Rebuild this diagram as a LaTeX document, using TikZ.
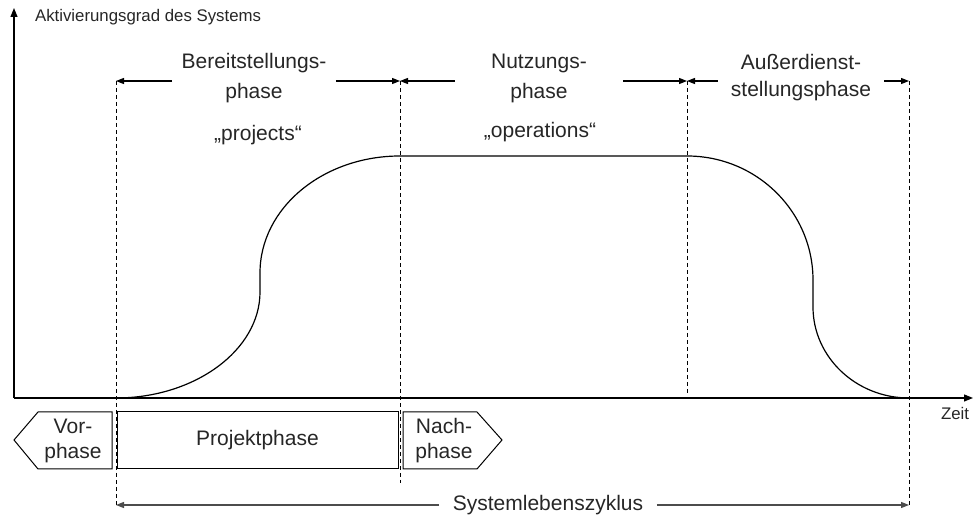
\documentclass[tikz,border=0pt]{standalone}
\usepackage{fontspec}
\setmainfont{Liberation Sans}
\usetikzlibrary{arrows.meta}

\begin{document}
\begin{tikzpicture}[
        x=0.5pt, y=-0.5pt,
        every node/.style={text=black!85},
        phasetxt/.style={align=center, font=\fontsize{10.5}{15}\selectfont},
        boxtxt/.style={align=center, font=\fontsize{10.5}{12.5}\selectfont},
        smalltxt/.style={font=\fontsize{8.4}{10}\selectfont},
        guide/.style={dash pattern=on 2pt off 1.5pt, line width=0.5pt},
        dimarrow/.style={-{Triangle[length=4pt,width=3pt]}, line width=0.6pt},
        axis/.style={-{Triangle[length=4.5pt,width=3.5pt]}, line width=0.6pt},
        curve/.style={line width=0.6pt},
        phasebox/.style={draw, line width=0.5pt}
      ]
        \useasboundingbox (0,0) rectangle (976,517);

        % Axes
        \coordinate (origin) at (14,398);
        \coordinate (ytip) at (14,8);
        \coordinate (xtip) at (973,398);
        \draw[axis] (origin) -- (ytip);
        \draw[axis] (origin) -- (xtip);
        \node[smalltxt, anchor=west] (ylabel) at (28,17) {Aktivierungsgrad des Systems};
        \node[smalltxt] (xlabel) at (955,414) {Zeit};

        % Phase borders
        \coordinate (g1t) at (116,81);
        \coordinate (g1b) at (116,505);
        \coordinate (g2t) at (400,81);
        \coordinate (g2b) at (400,483);
        \coordinate (g3t) at (687,81);
        \coordinate (g3b) at (687,396);
        \coordinate (g4t) at (909,81);
        \coordinate (g4b) at (909,505);
        \draw[guide] (g1t) -- (g1b);
        \draw[guide] (g2t) -- (g2b);
        \draw[guide] (g3t) -- (g3b);
        \draw[guide] (g4t) -- (g4b);

        % Phase labels
        \node[phasetxt, inner xsep=4.5pt] (bereit) at (254,78) {Bereitstellungs-\\phase};
        \node[phasetxt] (projects) at (258,135) {„projects“};
        \node[phasetxt, inner xsep=18pt] (nutzung) at (539,78) {Nutzungs-\\phase};
        \node[phasetxt] (operations) at (540,132) {„operations“};
        \node[phasetxt, font=\fontsize{10.5}{13.5}\selectfont, inner xsep=6.5pt] (ausser) at (801,78) {Außerdienst-\\stellungsphase};

        % Dimension arrows
        \draw[dimarrow] (bereit.west |- g1t) -- (g1t);
        \draw[dimarrow] (bereit.east |- g2t) -- (g2t);
        \draw[dimarrow] (nutzung.west |- g2t) -- (g2t);
        \draw[dimarrow] (nutzung.east |- g3t) -- (g3t);
        \draw[dimarrow] (ausser.west |- g3t) -- (g3t);
        \draw[dimarrow] (ausser.east |- g4t) -- (g4t);

        % Activation curve
        \draw[curve] (g1b |- origin) .. controls (195,398) and (260,350) .. (260,292)
          -- (260,273) .. controls (260,208) and (323,156) .. (400,156)
          -- (687,156) .. controls (757,156) and (813,212) .. (813,280)
          -- (813,307) .. controls (813,357) and (856,398) .. (909,398) -- (930,398);

        % Project phases
        \draw[phasebox] (112,412) -- (38,412) -- (14,440) -- (38,469) -- (112,469) -- cycle;
        \node[boxtxt] (vor) at (73,441) {Vor-\\phase};
        \node[phasebox, minimum width=140.5pt, minimum height=28.5pt, inner sep=0pt] (projekt) at (257.5,440.5) {\fontsize{10.5}{12.5}\selectfont Projektphase};
        \draw[phasebox] (403,412) -- (477,412) -- (502,440) -- (477,469) -- (403,469) -- cycle;
        \node[boxtxt] (nach) at (444,441) {Nach-\\phase};

        % Life cycle
        \node[phasetxt, inner xsep=6.7pt] (zyklus) at (548,505) {Systemlebenszyklus};
        \draw[dimarrow, black!70] (zyklus.west |- g1b) -- (g1b);
        \draw[dimarrow, black!70] (zyklus.east |- g4b) -- (g4b);
      \end{tikzpicture}
\end{document}
